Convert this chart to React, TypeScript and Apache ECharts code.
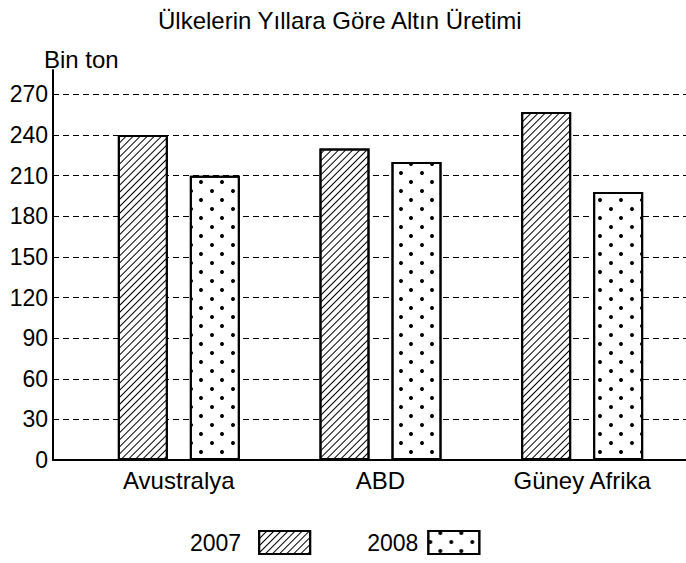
import React, { useEffect, useRef } from "react";
import * as echarts from "echarts";

const titleText = "Ülkelerin Yıllara Göre Altın Üretimi";
const unitText = "Bin ton";
const categories = ["Avustralya", "ABD", "Güney Afrika"];
const seriesNames = ["2007", "2008"];
const values2007 = [240, 230, 257];
const values2008 = [210, 220, 198];
const yMin = 0;
const yMax = 288;
const yInterval = 30;

const FONT = "Liberation Sans, Arial, sans-serif";

export default function App() {
  const ref = useRef<HTMLDivElement>(null);

  useEffect(() => {
    if (!ref.current) return;
    const chart = echarts.init(ref.current, null, { renderer: "svg" });

    const hatch = {
      symbol: "rect",
      symbolSize: 1,
      color: "#000",
      dashArrayX: [1, 0],
      dashArrayY: [1, 4],
      rotation: -Math.PI / 4,
    };
    const dots = {
      symbol: "circle",
      symbolSize: 1,
      color: "#000",
      dashArrayX: [
        [3.5, 16.5],
        [0, 10, 3.5, 6.5],
      ],
      dashArrayY: [3.5, 4.5],
      rotation: 0,
    };

    const option: any = {
      animation: false,
      backgroundColor: "#fff",
      textStyle: { fontFamily: FONT, color: "#000" },
      title: [
        {
          text: titleText,
          left: 153,
          top: 3,
          textStyle: { fontSize: 24, fontWeight: "normal", color: "#000", fontFamily: FONT },
        },
        {
          text: unitText,
          left: 39,
          top: 42,
          textStyle: { fontSize: 24, fontWeight: "normal", color: "#000", fontFamily: FONT },
        },
      ],
      legend: {
        data: [
          { name: seriesNames[0], textStyle: { padding: [0, 13, 0, 0] } },
          { name: seriesNames[1], textStyle: { padding: [0, 5, 0, 0] } },
        ],
        left: 185,
        top: 525,
        align: "right",
        icon: "rect",
        itemWidth: 51,
        itemHeight: 23,
        itemGap: 56,
        textStyle: { fontSize: 23, color: "#000", fontFamily: FONT },
      },
      grid: [
        { left: 53, right: 0, top: 70, bottom: 103 },
        { left: 78, right: 3, top: 70, bottom: 103 },
      ],
      xAxis: [
        {
          gridIndex: 0,
          type: "category",
          data: categories,
          axisLine: { show: true, lineStyle: { color: "#000", width: 2 } },
          axisTick: { show: false },
          axisLabel: { show: false },
          splitLine: { show: false },
        },
        {
          gridIndex: 1,
          type: "category",
          data: categories,
          axisLine: { show: false },
          axisTick: { show: false },
          axisLabel: { show: true, fontSize: 24, color: "#000", margin: 8, fontFamily: FONT },
          splitLine: { show: false },
        },
      ],
      yAxis: [
        {
          gridIndex: 0,
          type: "value",
          min: yMin,
          max: yMax,
          interval: yInterval,
          axisLine: { show: true, lineStyle: { color: "#000", width: 2 } },
          axisTick: { show: false },
          axisLabel: {
            fontSize: 23,
            color: "#000",
            margin: 5,
            fontFamily: FONT,
            showMaxLabel: false,
            formatter: (v: number) => (v % yInterval === 0 ? String(v) : ""),
          },
          splitLine: {
            show: true,
            showMaxLine: false,
            showMinLine: false,
            lineStyle: { color: "#000", width: 1, type: [6, 4] },
          },
        },
        {
          gridIndex: 1,
          type: "value",
          min: yMin,
          max: yMax,
          interval: yInterval,
          show: false,
          splitLine: { show: false },
        },
      ],
      series: [
        {
          type: "bar",
          name: seriesNames[0],
          xAxisIndex: 1,
          yAxisIndex: 1,
          data: values2007,
          barWidth: 50,
          barGap: "44%",
          itemStyle: { color: "#fff", borderColor: "#000", borderWidth: 2, decal: hatch },
        },
        {
          type: "bar",
          name: seriesNames[1],
          xAxisIndex: 1,
          yAxisIndex: 1,
          data: values2008,
          barWidth: 50,
          barGap: "44%",
          itemStyle: { color: "#fff", borderColor: "#000", borderWidth: 2, decal: dots },
        },
      ],
    };

    chart.setOption(option);
    return () => chart.dispose();
  }, []);

  return (
    <div
      ref={ref}
      style={{ position: "fixed", left: 0, top: 0, width: 686, height: 563, background: "#fff" }}
    />
  );
}
